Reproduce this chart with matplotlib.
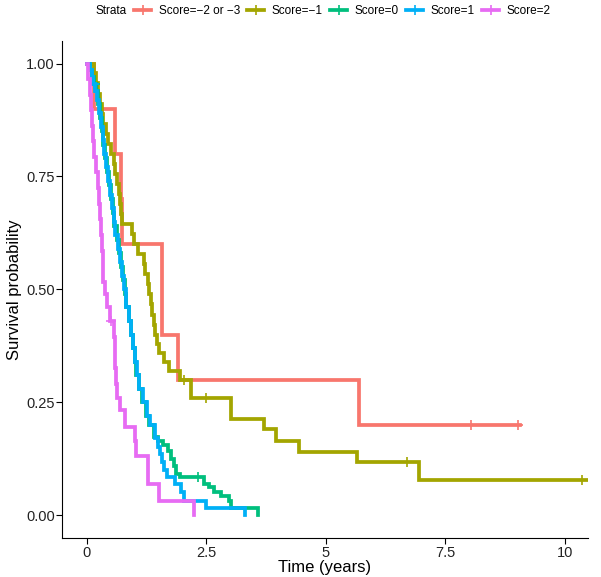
import numpy as np
import matplotlib.pyplot as plt
from matplotlib.lines import Line2D

plt.rcParams['font.family'] = ['Liberation Sans', 'DejaVu Sans']

# Kaplan-Meier step points (time in years, survival after the step)
labels = ['Score=\u22122 or \u22123', 'Score=\u22121', 'Score=0', 'Score=1', 'Score=2']
colors = ['#F8766D', '#A3A500', '#00BF7D', '#00B0F6', '#E76BF3']

red_t = [0, 0.15, 0.60, 0.71, 0.73, 1.58, 1.90, 5.69, 9.06]
red_s = [1, 0.90, 0.80, 0.70, 0.60, 0.40, 0.30, 0.20, 0.20]
red_cens = [8.04, 9.02]

olive_t = [0, 0.15, 0.19, 0.23, 0.27, 0.31, 0.35, 0.40, 0.44, 0.50, 0.56, 0.60, 0.63,
           0.67, 0.69, 0.71, 0.73, 0.94, 0.98, 1.08, 1.19, 1.21, 1.29, 1.31, 1.34, 1.37,
           1.40, 1.42, 1.46, 1.52, 1.62, 1.71, 1.83, 1.94, 2.19, 3.02, 3.71, 3.96, 4.44,
           5.65, 6.94, 10.46]
olive_s = [1, 0.978, 0.956, 0.933, 0.911, 0.889, 0.867, 0.844, 0.822, 0.80, 0.778, 0.756,
           0.733, 0.711, 0.689, 0.667, 0.645, 0.622, 0.60, 0.578, 0.556, 0.533, 0.511,
           0.489, 0.467, 0.444, 0.422, 0.40, 0.378, 0.36, 0.34, 0.32, 0.32, 0.30, 0.26,
           0.214, 0.19, 0.165, 0.14, 0.118, 0.078, 0.078]
olive_cens = [2.04, 2.50, 6.70, 10.35]

teal_t = [0, 0.06, 0.10, 0.15, 0.19, 0.23, 0.27, 0.31, 0.35, 0.39, 0.42, 0.46, 0.50, 0.54,
          0.58, 0.63, 0.67, 0.71, 0.75, 0.79, 0.83, 0.88, 0.92, 0.96, 1.00, 1.04, 1.09,
          1.15, 1.23, 1.31, 1.40, 1.50, 1.60, 1.69, 1.77, 1.82, 1.875, 1.94, 2.46, 2.56,
          2.67, 2.81, 2.98, 3.02, 3.58]
teal_s = [1, 0.985, 0.97, 0.955, 0.94, 0.91, 0.88, 0.85, 0.82, 0.79, 0.76, 0.73, 0.70,
          0.67, 0.64, 0.61, 0.58, 0.55, 0.52, 0.49, 0.46, 0.43, 0.40, 0.37, 0.34, 0.31,
          0.28, 0.25, 0.22, 0.20, 0.174, 0.165, 0.155, 0.143, 0.125, 0.108, 0.092, 0.085,
          0.069, 0.062, 0.051, 0.042, 0.031, 0.017, 0.0]
teal_cens = [0.17, 2.33]

blue_t = [0, 0.06, 0.10, 0.13, 0.17, 0.21, 0.25, 0.29, 0.33, 0.36, 0.40, 0.44, 0.48, 0.52,
          0.56, 0.60, 0.65, 0.69, 0.73, 0.78, 0.83, 0.88, 0.92, 0.96, 1.00, 1.05, 1.10,
          1.17, 1.25, 1.33, 1.42, 1.50, 1.54, 1.58, 1.62, 1.67, 1.85, 1.98, 2.04, 2.50,
          3.31]
blue_s = [1, 0.985, 0.97, 0.955, 0.94, 0.92, 0.89, 0.86, 0.83, 0.80, 0.77, 0.74, 0.71,
          0.68, 0.65, 0.62, 0.59, 0.56, 0.53, 0.50, 0.46, 0.43, 0.40, 0.37, 0.34, 0.31,
          0.28, 0.25, 0.22, 0.20, 0.17, 0.152, 0.135, 0.118, 0.10, 0.085, 0.069, 0.052,
          0.031, 0.015, 0.0]
blue_cens = [0.15]

pink_t = [0, 0.03, 0.06, 0.08, 0.10, 0.13, 0.15, 0.19, 0.23, 0.25, 0.27, 0.29, 0.31, 0.33,
          0.35, 0.375, 0.42, 0.48, 0.58, 0.59, 0.60, 0.61, 0.625, 0.69, 0.79, 1.00, 1.04,
          1.29, 1.52, 2.25]
pink_s = [1, 0.966, 0.931, 0.897, 0.862, 0.828, 0.793, 0.759, 0.724, 0.69, 0.655, 0.621,
          0.586, 0.552, 0.517, 0.49, 0.46, 0.43, 0.395, 0.36, 0.325, 0.29, 0.259, 0.232,
          0.196, 0.165, 0.132, 0.069, 0.031, 0.0]
pink_cens = [0.50]

curves = [(red_t, red_s, red_cens), (olive_t, olive_s, olive_cens),
          (teal_t, teal_s, teal_cens), (blue_t, blue_s, blue_cens),
          (pink_t, pink_s, pink_cens)]


def surv_at(t, s, x):
    i = np.searchsorted(t, x, side='right') - 1
    return np.asarray(s)[i]


fig = plt.figure(figsize=(6.01, 5.77), dpi=100)
ax = fig.add_axes([0.103, 0.068, 0.875, 0.861])

for (t, s, cens), c in zip(curves, colors):
    ax.step(t, s, where='post', color=c, lw=2.7, solid_joinstyle='miter')
    if cens:
        ax.plot(cens, surv_at(t, s, cens), ls='none', marker='+', ms=7, mew=1.2, color=c)

ax.set_xlim(-0.52, 10.48)
ax.set_ylim(-0.05, 1.05)
ax.set_xticks([0, 2.5, 5, 7.5, 10])
ax.set_xticklabels(['0', '2.5', '5', '7.5', '10'])
ax.set_yticks([0, 0.25, 0.5, 0.75, 1.0])
ax.set_yticklabels(['0.00', '0.25', '0.50', '0.75', '1.00'])
ax.tick_params(labelsize=10.5, length=4, color='black', labelcolor='#222222', pad=2)
ax.tick_params(axis='y', pad=1)
ax.spines['top'].set_visible(False)
ax.spines['right'].set_visible(False)
ax.set_xlabel('Time (years)', fontsize=12, labelpad=0)
ax.set_ylabel('Survival probability', fontsize=12, labelpad=3)

handles = [Line2D([], [], color=c, lw=2.7, marker='+', ms=7, mew=1.2) for c in colors]
fig.text(96 / 601, 1 - 11.5 / 577, 'Strata', fontsize=8.5, va='center', ha='left')
fig.legend(handles, labels, loc='center left', bbox_to_anchor=(134 / 601, 1 - 11.5 / 577),
           ncol=5, frameon=False, fontsize=8.5, handlelength=1.45, handletextpad=0.65,
           columnspacing=0.6, borderaxespad=0, borderpad=0)

fig.savefig('out.png', dpi=100)
